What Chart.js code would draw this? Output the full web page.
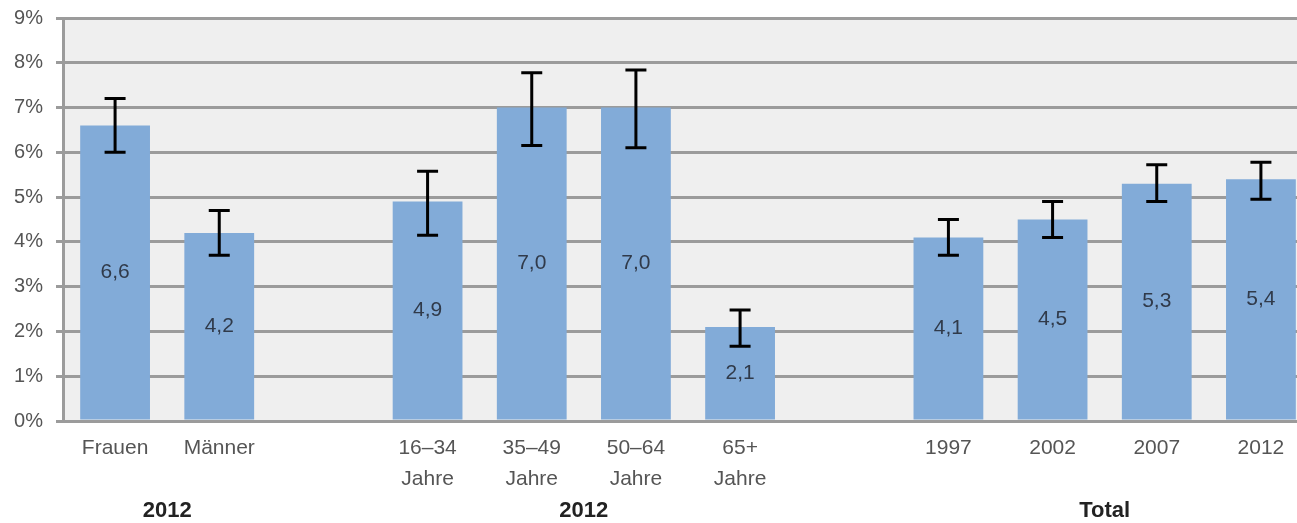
<!DOCTYPE html>
<html>
<head>
<meta charset="utf-8">
<script src="https://cdn.jsdelivr.net/npm/chart.js@4.4.1/dist/chart.umd.min.js"></script>
<style>
  html, body { margin: 0; padding: 0; background: #fff; overflow: hidden; }
  #wrap { position: relative; width: 1297px; height: 523px; overflow: hidden; }
  #myChart { position: absolute; left: 0; top: 0; }
</style>
</head>
<body>
<div id="wrap"><canvas id="myChart" width="1315" height="523"></canvas></div>
<script>
// categories (empty strings are the gaps between the groups)
var categories = [
  "Frauen", "Männer", "",
  ["16–34", "Jahre"], ["35–49", "Jahre"], ["50–64", "Jahre"], ["65+", "Jahre"], "",
  "1997", "2002", "2007", "2012"
];
var values   = [6.6, 4.2, null, 4.9, 7.0, 7.0, 2.1, null, 4.1, 4.5, 5.3, 5.4];
var errLow   = [6.0, 3.7, null, 4.15, 6.15, 6.1, 1.67, null, 3.7, 4.1, 4.9, 4.95];
var errHigh  = [7.2, 4.7, null, 5.58, 7.78, 7.84, 2.48, null, 4.5, 4.9, 5.72, 5.78];
var yTickLabels = ["0%", "1%", "2%", "3%", "4%", "5%", "6%", "7%", "8%", "9%"];
var groupLabels = ["2012", "2012", "Total"];
var groupFrom   = [0, 3, 8];
var groupTo     = [1, 6, 11];

var FONT = "'Liberation Sans', Arial, sans-serif";

// grey plot background
var plotBackground = {
  id: "plotBackground",
  beforeDraw: function (chart) {
    var a = chart.chartArea, c = chart.ctx;
    c.save();
    c.fillStyle = "#efefef";
    c.fillRect(a.left, a.top, a.right - a.left, a.bottom - a.top);
    c.restore();
  }
};

// error bars + value labels
var barExtras = {
  id: "barExtras",
  afterDatasetsDraw: function (chart) {
    var c = chart.ctx;
    var y = chart.scales.y;
    var meta = chart.getDatasetMeta(0);
    c.save();
    meta.data.forEach(function (bar, i) {
      if (values[i] == null) return;
      // value label in the middle of the bar
      var mid = (bar.y + bar.base) / 2;
      c.fillStyle = "#303a4a";
      c.font = "21px " + FONT;
      c.textAlign = "center";
      c.textBaseline = "middle";
      c.fillText(values[i].toFixed(1).replace(".", ","), bar.x, mid);
      // error bar
      var yl = y.getPixelForValue(errLow[i]);
      var yh = y.getPixelForValue(errHigh[i]);
      c.strokeStyle = "#000";
      c.lineWidth = 3;
      c.beginPath();
      c.moveTo(bar.x, yl); c.lineTo(bar.x, yh);
      c.moveTo(bar.x - 10.5, yl); c.lineTo(bar.x + 10.5, yl);
      c.moveTo(bar.x - 10.5, yh); c.lineTo(bar.x + 10.5, yh);
      c.stroke();
    });
    c.restore();
  }
};

// bold group labels under the category labels
var groupTitles = {
  id: "groupTitles",
  afterDraw: function (chart) {
    var c = chart.ctx, x = chart.scales.x;
    c.save();
    c.fillStyle = "#222";
    c.font = "bold 22px " + FONT;
    c.textAlign = "center";
    c.textBaseline = "middle";
    groupLabels.forEach(function (g, i) {
      var cx = (x.getPixelForValue(groupFrom[i]) + x.getPixelForValue(groupTo[i])) / 2;
      c.fillText(g, cx, 511);
    });
    c.restore();
  }
};

var ctx = document.getElementById("myChart").getContext("2d");
var myChart = new Chart(ctx, {
  type: "bar",
  data: {
    labels: categories,
    datasets: [{
      data: values,
      backgroundColor: "#82abd8",
      borderWidth: 0,
      barPercentage: 0.67,
      categoryPercentage: 1.0
    }]
  },
  options: {
    responsive: false,
    animation: false,
    devicePixelRatio: 1,
    layout: { padding: { top: 18, right: 2, left: 0, bottom: 0 } },
    plugins: { legend: { display: false }, tooltip: { enabled: false } },
    scales: {
      x: {
        grid: { display: false },
        border: { display: false },
        ticks: {
          color: "#555",
          font: { family: FONT, size: 21, lineHeight: 1.48 },
          padding: 4,
          maxRotation: 0,
          autoSkip: false
        },
        afterFit: function (s) { s.height = 102; s.paddingLeft = 0; s.paddingRight = 0; }
      },
      y: {
        min: 0,
        max: 9,
        grid: { color: "#9b9b9b", lineWidth: 3, tickLength: 7 },
        border: { display: true, color: "#9b9b9b", width: 3 },
        ticks: {
          stepSize: 1,
          color: "#555",
          padding: 13,
          font: { family: FONT, size: 20 },
          callback: function (v) { return yTickLabels[v]; }
        },
        afterFit: function (s) { s.width = 63; s.paddingTop = 0; s.paddingBottom = 0; }
      }
    }
  },
  plugins: [plotBackground, barExtras, groupTitles]
});
</script>
</body>
</html>
